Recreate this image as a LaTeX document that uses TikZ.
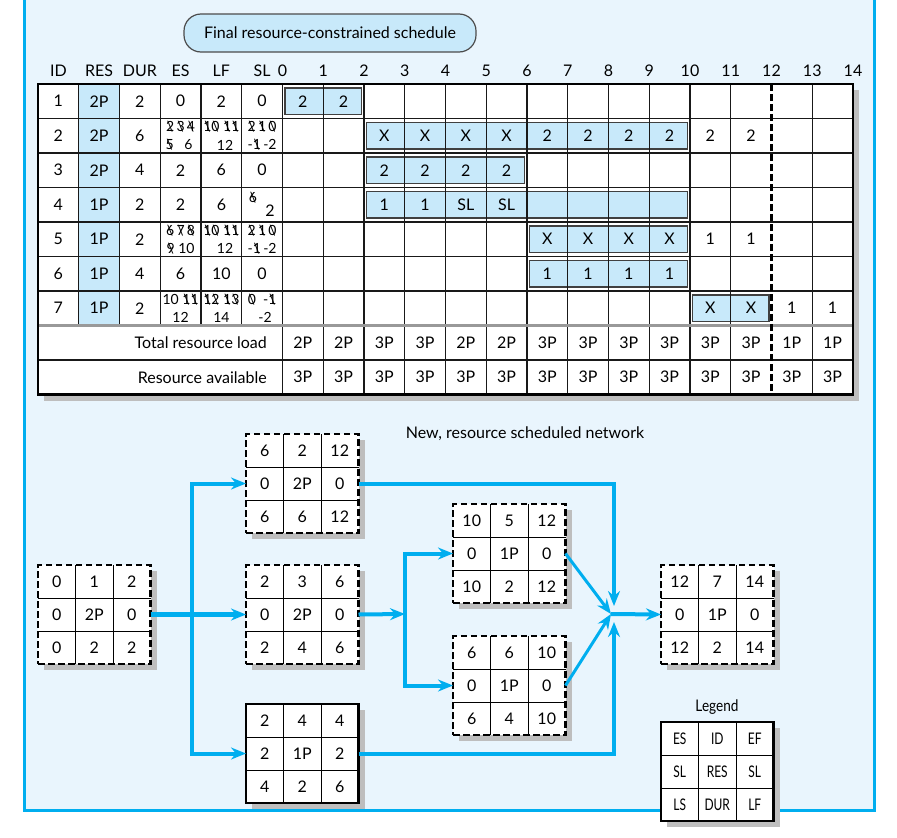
\documentclass[tikz,border=0pt]{standalone}
\usepackage{fontspec}
\setmainfont{Lato}
\usepackage{graphicx}
\usetikzlibrary{arrows.meta,calc}
\definecolor{frameblue}{HTML}{00AEEF}
\definecolor{bgblue}{HTML}{E9F5FD}
\definecolor{cellblue}{HTML}{C8E9FA}
\definecolor{shadowgray}{HTML}{BEBEBE}
\definecolor{cblue}{HTML}{00AEEF}
\newcommand\stk[1]{\ooalign{#1\cr\hidewidth\textbackslash\hidewidth\cr}}
\newcommand\cond[1]{\scalebox{0.75}[1]{#1}}
\tikzset{
  txt/.style={inner sep=0pt, font=\fontsize{16}{18}\selectfont},
  small/.style={inner sep=0pt, font=\fontsize{14}{16}\selectfont},
  gridline/.style={line width=1.1pt, black!90},
  barbox/.style={fill=cellblue, draw=black!75, line width=1.1pt},
  conn/.style={draw=cblue, line width=4pt},
  tip/.style={-{Stealth[length=15pt,width=12pt,inset=5pt]}},
  dashbox/.style={draw, line width=2.4pt, dash pattern=on 6.5pt off 3.5pt},
  solidbox/.style={draw, line width=2.4pt},
  titlebox/.style={draw=black!70, fill=cellblue, rounded corners=17pt, minimum width=292pt, minimum height=38pt, line width=1.2pt, inner sep=0pt, font=\fontsize{16}{18}\selectfont},
}
\newcommand\netbox[5]{%
  \fill[shadowgray] (#2+6,#3+6) rectangle (#2+118.5,#3+105);
  \fill[white] (#2,#3) rectangle (#2+112.5,#3+99);
  \draw[line width=0.9pt] (#2+37.5,#3) -- (#2+37.5,#3+99) (#2+75,#3) -- (#2+75,#3+99)
     (#2,#3+33) -- (#2+112.5,#3+33) (#2,#3+66) -- (#2+112.5,#3+66);
  \node[#4, minimum width=112.5pt, minimum height=99pt, anchor=north west, inner sep=0pt, outer sep=0pt] (#1) at (#2,#3) {};
  \foreach \t [count=\k from 0] in {#5} {
    \pgfmathtruncatemacro\cc{mod(\k,3)}
    \pgfmathtruncatemacro\rr{div(\k,3)}
    \node[txt] (#1-\k) at ({#2+18.75+37.5*\cc},{#3+16.5+33*\rr}) {\t};
  }
}
\newcommand\schedbar[3]{%
  \draw[barbox] ({38+40.75*(6+#2)+2.5},{84+34.5*#1+4}) rectangle ({38+40.75*(6+#3)-2.5},{84+34.5*(#1+1)-4});
}
\begin{document}
\begin{tikzpicture}[x=1pt,y=-1pt]
\useasboundingbox (0,0) rectangle (897,838);
% frame
\fill[bgblue] (24,-10) rectangle (874,810);
\draw[frameblue, line width=3pt] (24,-10) -- (24,810) -- (874,810) -- (874,-10);
% title
\node[titlebox] (title) at (330,33) {Final resource-constrained schedule};
% header
\foreach \h [count=\k from 0] in {ID,RES,DUR,ES,LF,SL}
  \node[txt] (h-\k) at ({38+40.75*(\k+0.5)},71) {\h};
\foreach \t in {0,...,14}
  \node[txt] (ht-\t) at ({38+40.75*(6+\t)},71) {\t};
% table
\fill[shadowgray] (44,90) rectangle (859,400.5);
\fill[white] (38,84) rectangle (853,394.5);
\fill[cellblue] (78.75,84) rectangle (119.5,325.5);
\schedbar{0}{0}{2}
\schedbar{1}{2}{10}
\schedbar{2}{2}{6}
\schedbar{3}{2}{10}
\schedbar{4}{6}{10}
\schedbar{5}{6}{10}
\schedbar{6}{10}{12}
\foreach \i in {1,...,5}
  \draw[gridline] ({38+40.75*\i},84) -- ({38+40.75*\i},325.5);
\foreach \i in {6,...,17,19}
  \draw[gridline] ({38+40.75*\i},84) -- ({38+40.75*\i},394.5);
\foreach \j in {1,...,6,8}
  \draw[gridline] (38,{84+34.5*\j}) -- (853,{84+34.5*\j});
\draw[black!40, line width=2.2pt] (38,325.5) -- (853,325.5);
\draw[line width=2.2pt, dash pattern=on 7pt off 3pt] (771.5,84) -- (771.5,394.5);
\draw[line width=2.6pt] (38,84) rectangle (853,394.5);
% left columns
\foreach \r/\a/\b/\c in {0/1/2P/2, 1/2/2P/6, 2/3/2P/4, 3/4/1P/2, 4/5/1P/2, 5/6/1P/4, 6/7/1P/2} {
  \node[txt] (id-\r) at ({38+40.75*0.5},{84+34.5*(\r+0.5)}) {\a};
  \node[txt] (res-\r) at ({38+40.75*1.5},{84+34.5*(\r+0.5)}) {\b};
  \node[txt] (dur-\r) at ({38+40.75*2.5},{84+34.5*(\r+0.5)}) {\c};
}
\foreach \r/\a/\b/\c in {0/0/2/0, 2/2/6/0, 5/6/10/0} {
  \node[txt] (es-\r) at ({38+40.75*3.5},{84+34.5*(\r+0.5)}) {\a};
  \node[txt] (lf-\r) at ({38+40.75*4.5},{84+34.5*(\r+0.5)}) {\b};
  \node[txt] (sl-\r) at ({38+40.75*5.5},{84+34.5*(\r+0.5)}) {\c};
}
\node[txt] (es-3) at (180.6,204.75) {2};
\node[txt] (lf-3) at (221.4,204.75) {6};
\node[small] (sl-3a) at (253,198) {\stk{6}};
\node[txt] (sl-3b) at (270,211) {2};
% row 2 (ID 2)
\node[small] (es-1a) at (180.6,127) {\stk{2}\,\stk{3}\,\stk{4}};
\node[small] (es-1b) at (179,145) {\stk{5}\ \ \ 6};
\node[small] (lf-1a) at (221.4,127) {\stk{1}\stk{0}\ \stk{1}\stk{1}};
\node[small] (lf-1b) at (225,145) {12};
\node[small] (sl-1a) at (262.1,127) {\stk{2}\,\stk{1}\,\stk{0}};
\node[small] (sl-1b) at (262.1,145) {-\stk{1}\,-2};
% row 5 (ID 5)
\node[small] (es-4a) at (180.6,230.5) {\stk{6}\,\stk{7}\,\stk{8}};
\node[small] (es-4b) at (180.6,248.5) {\stk{9}\ 10};
\node[small] (lf-4a) at (221.4,230.5) {\stk{1}\stk{0}\ \stk{1}\stk{1}};
\node[small] (lf-4b) at (225,248.5) {12};
\node[small] (sl-4a) at (262.1,230.5) {\stk{2}\,\stk{1}\,\stk{0}};
\node[small] (sl-4b) at (262.1,248.5) {-\stk{1}\,-2};
% row 7 (ID 7)
\node[small] (es-6a) at (180.6,299.5) {10\ \stk{1}\stk{1}};
\node[small] (es-6b) at (180.6,317.5) {12};
\node[small] (lf-6a) at (221.4,299.5) {\stk{1}\stk{2}\ \stk{1}\stk{3}};
\node[small] (lf-6b) at (221.4,317.5) {14};
\node[small] (sl-6a) at (262.1,299.5) {\stk{0}\ \ -\stk{1}};
\node[small] (sl-6b) at (265,317.5) {-2};
% time cells
\foreach \r/\t/\v in {0/0/2, 0/1/2,
  1/2/X,1/3/X,1/4/X,1/5/X,1/6/2,1/7/2,1/8/2,1/9/2,1/10/2,1/11/2,
  2/2/2,2/3/2,2/4/2,2/5/2,
  3/2/1,3/3/1,3/4/SL,3/5/SL,
  4/6/X,4/7/X,4/8/X,4/9/X,4/10/1,4/11/1,
  5/6/1,5/7/1,5/8/1,5/9/1,
  6/10/X,6/11/X,6/12/1,6/13/1}
  \node[txt] (t-\r-\t) at ({38+40.75*(6.5+\t)},{84+34.5*(\r+0.5)}) {\v};
% totals
\node[txt, anchor=east] (tot) at (267,342.75) {Total resource load};
\node[txt, anchor=east] (avail) at (267,377.25) {Resource available};
\foreach \v [count=\k from 0] in {2P,2P,3P,3P,2P,2P,3P,3P,3P,3P,3P,3P,1P,1P}
  \node[txt] (tl-\k) at ({38+40.75*(6.5+\k)},342.75) {\v};
\foreach \k in {0,...,13}
  \node[txt] (ra-\k) at ({38+40.75*(6.5+\k)},377.25) {3P};
% network
\node[txt] (nettitle) at (525,434) {New, resource scheduled network};
\netbox{N1}{38}{565}{dashbox}{0,1,2,0,2P,0,0,2,2}
\netbox{N2}{246}{434}{dashbox}{6,2,12,0,2P,0,6,6,12}
\netbox{N3}{246}{565}{dashbox}{2,3,6,0,2P,0,2,4,6}
\netbox{N4}{246}{704}{solidbox}{2,4,4,2,1P,2,4,2,6}
\netbox{N5}{453}{504}{dashbox}{10,5,12,0,1P,0,10,2,12}
\netbox{N6}{453}{636}{dashbox}{6,6,10,0,1P,0,6,4,10}
\netbox{N7}{661}{565}{dashbox}{12,7,14,0,1P,0,12,2,14}
\node[txt] (legtitle) at (717,707) {\scalebox{0.85}[1]{Legend}};
\netbox{LG}{661}{722}{solidbox}{\cond{ES},\cond{ID},\cond{EF},\cond{SL},\cond{RES},\cond{SL},\cond{LS},\cond{DUR},\cond{LF}}
% connectors
\coordinate (split) at (192,614);
\coordinate (br) at (405,614);
\coordinate (jn) at (611,614);
\coordinate (jt) at (614,606);
\coordinate (jb) at (614,622);
\draw[conn, line width=5pt, tip] (N1.east) -- (N3.west);
\draw[conn, tip] (split) |- (N2.west);
\draw[conn, tip] (split) |- (N4.west);
\draw[conn, tip] (N3.east) -- (br);
\draw[conn, tip] (br) |- (N5.west);
\draw[conn, tip] (br) |- (N6.west);
\draw[conn, tip] (N2.east) -| (jt);
\draw[conn, tip] (N4.east) -| (jb);
\draw[conn, line width=3pt, tip] (N5.east) -- (jn);
\draw[conn, line width=3pt, tip] (N6.east) -- (jn);
\draw[conn, tip] (jn) -- (N7.west);
\end{tikzpicture}
\end{document}
